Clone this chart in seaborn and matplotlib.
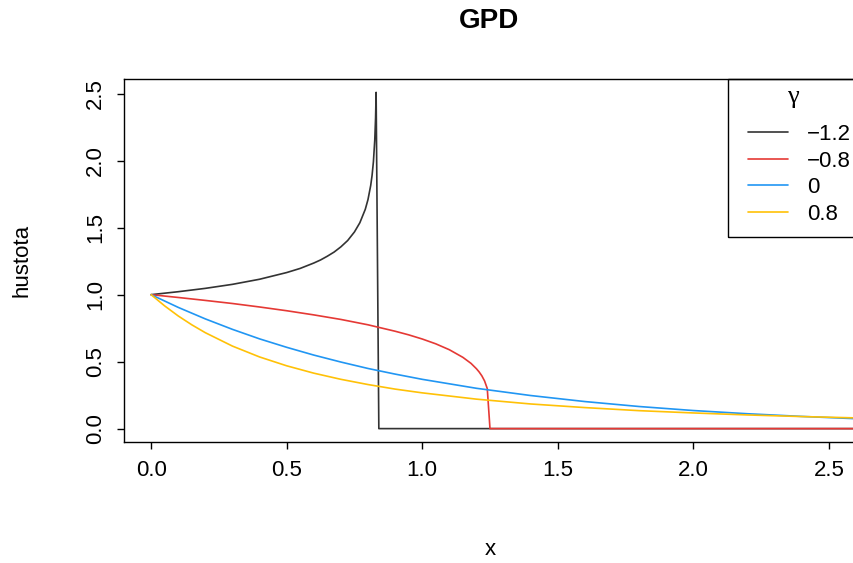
import numpy as np
import pandas as pd
import matplotlib
matplotlib.use("Agg")
import matplotlib.pyplot as plt
from matplotlib.lines import Line2D
from matplotlib.patches import Rectangle
import seaborn as sns

# values
x_m12 = [0, 0.1, 0.2, 0.3, 0.4, 0.5, 0.55, 0.6, 0.625, 0.65, 0.675, 0.7, 0.725,
         0.75, 0.77, 0.79, 0.8, 0.81, 0.815, 0.82, 0.825, 0.828, 0.83, 0.84, 2.6]
y_m12 = [1, 1.022, 1.047, 1.077, 1.115, 1.165, 1.196, 1.236, 1.259, 1.287, 1.318,
         1.357, 1.404, 1.468, 1.537, 1.637, 1.71, 1.815, 1.889, 1.992, 2.154,
         2.321, 2.51, 0, 0]

x_m08 = [0, 0.1, 0.2, 0.3, 0.4, 0.5, 0.6, 0.7, 0.8, 0.9, 0.95, 1.0, 1.05, 1.1,
         1.15, 1.18, 1.2, 1.21, 1.22, 1.23, 1.24, 1.25, 2.6]
y_m08 = [1, 0.979, 0.957, 0.934, 0.908, 0.880, 0.849, 0.815, 0.775, 0.727, 0.700,
         0.669, 0.633, 0.589, 0.532, 0.487, 0.447, 0.423, 0.394, 0.356, 0.299, 0, 0]

x_0 = [0, 0.1, 0.2, 0.3, 0.4, 0.5, 0.6, 0.7, 0.8, 0.9, 1.0, 1.2, 1.4, 1.6, 1.8,
       2.0, 2.2, 2.4, 2.6]
y_0 = [1, 0.905, 0.819, 0.741, 0.670, 0.607, 0.549, 0.497, 0.449, 0.407, 0.368,
       0.301, 0.247, 0.202, 0.165, 0.135, 0.111, 0.091, 0.074]

x_08 = [0, 0.05, 0.1, 0.15, 0.2, 0.3, 0.4, 0.5, 0.6, 0.7, 0.8, 0.9, 1.0, 1.2, 1.4,
        1.6, 1.8, 2.0, 2.2, 2.4, 2.6]
y_08 = [1, 0.916, 0.841, 0.775, 0.716, 0.616, 0.535, 0.469, 0.414, 0.368, 0.329,
        0.295, 0.267, 0.220, 0.184, 0.157, 0.134, 0.117, 0.102, 0.090, 0.080]

gammas = ["\u22121.2", "\u22120.8", "0", "0.8"]
colors = ["#333333", "#E53935", "#2196F3", "#FFC107"]
x_ticks = [0, 0.5, 1.0, 1.5, 2.0, 2.5]
y_ticks = [0, 0.5, 1.0, 1.5, 2.0, 2.5]

sns.set_style("white")
plt.rcParams["font.family"] = ["Liberation Sans", "DejaVu Sans"]
plt.rcParams["text.color"] = "black"
plt.rcParams["axes.labelcolor"] = "black"
plt.rcParams["xtick.color"] = "black"
plt.rcParams["ytick.color"] = "black"

fig = plt.figure(figsize=(8.54, 5.63), dpi=100)
ax = fig.add_axes([0.1452, 0.2149, 0.8571, 0.6448])

curves = [(x_m12, y_m12), (x_m08, y_m08), (x_0, y_0), (x_08, y_08)]
for (xs, ys), c in zip(curves, colors):
    df = pd.DataFrame({"x": xs, "y": ys})
    sns.lineplot(data=df, x="x", y="y", sort=False, estimator=None,
                 color=c, lw=1.2, ax=ax)

ax.set_xlim(-0.1, 2.6)
ax.set_ylim(-0.1, 2.61)
ax.set_xticks(x_ticks)
ax.set_yticks(y_ticks)
ax.set_xticklabels([f"{v:.1f}" for v in x_ticks])
ax.set_yticklabels([f"{v:.1f}" for v in y_ticks], rotation=90, va="center")
ax.tick_params(axis="both", direction="out", length=5, width=1.0,
               labelsize=16, bottom=True, left=True)
ax.tick_params(axis="x", pad=8)
ax.tick_params(axis="y", pad=8)
for s in ax.spines.values():
    s.set_color("black")
    s.set_linewidth(1.0)

ax.set_xlabel("x", fontsize=16, labelpad=42)
ax.set_ylabel("hustota", fontsize=16, labelpad=38)
fig.text(0.573, 0.962, "GPD", ha="center", va="center", fontsize=20,
         fontweight="bold")

# legend: box, title and entries placed separately (R-style legend)
fig.add_artist(Rectangle((728 / 854, 1 - 237 / 563), 0.2, 158 / 563,
                         transform=fig.transFigure, facecolor="none",
                         edgecolor="black", lw=1.0))
fig.text(793 / 854, 1 - 97 / 563, "\u03b3", ha="center", va="center",
         fontsize=19, family=["Liberation Serif", "DejaVu Serif"])
handles = [Line2D([], [], color=c, lw=1.2) for c in colors]
leg = ax.legend(handles, gammas, loc="upper left",
                bbox_to_anchor=(748 / 854, 1 - 124 / 563),
                bbox_transform=fig.transFigure, fontsize=16,
                frameon=False, borderaxespad=0, borderpad=0,
                handlelength=1.8, handletextpad=0.85, labelspacing=0.25)

fig.savefig("out.png", dpi=100)
